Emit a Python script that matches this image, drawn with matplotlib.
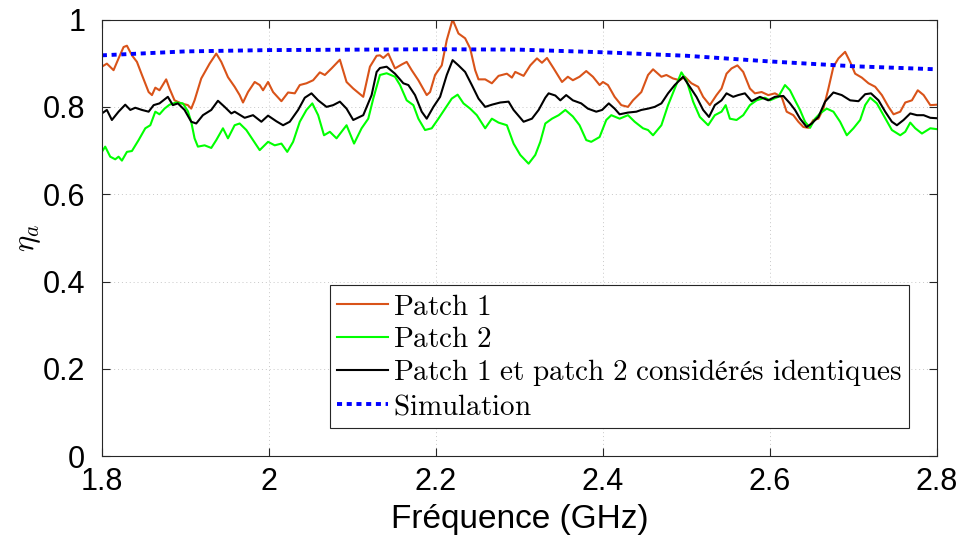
import matplotlib
matplotlib.use('Agg')
import matplotlib.pyplot as plt
from matplotlib.ticker import FormatStrFormatter

plt.rcParams['mathtext.fontset'] = 'cm'
plt.rcParams['font.family'] = ['Liberation Sans', 'DejaVu Sans']

# Patch 1 (orange)
freq_p1 = [1.800, 1.806, 1.814, 1.820, 1.826, 1.830, 1.836, 1.842, 1.848, 1.856,
           1.860, 1.864, 1.869, 1.877, 1.881, 1.887, 1.895, 1.903, 1.907, 1.911,
           1.919, 1.929, 1.937, 1.943, 1.951, 1.959, 1.965, 1.969, 1.975, 1.983,
           1.989, 1.993, 1.999, 2.005, 2.015, 2.023, 2.031, 2.037, 2.045, 2.053,
           2.061, 2.067, 2.075, 2.085, 2.093, 2.101, 2.113, 2.121, 2.129, 2.133,
           2.137, 2.143, 2.151, 2.159, 2.165, 2.171, 2.179, 2.189, 2.193, 2.199,
           2.207, 2.213, 2.220, 2.227, 2.235, 2.241, 2.247, 2.251, 2.259, 2.267,
           2.275, 2.285, 2.291, 2.295, 2.305, 2.313, 2.321, 2.327, 2.333, 2.341,
           2.351, 2.358, 2.364, 2.372, 2.380, 2.388, 2.396, 2.400, 2.406, 2.414,
           2.422, 2.430, 2.436, 2.446, 2.454, 2.460, 2.470, 2.476, 2.484, 2.492,
           2.498, 2.506, 2.514, 2.520, 2.528, 2.536, 2.542, 2.548, 2.554, 2.561,
           2.568, 2.576, 2.582, 2.590, 2.598, 2.606, 2.614, 2.620, 2.628, 2.634,
           2.640, 2.646, 2.652, 2.658, 2.664, 2.670, 2.676, 2.682, 2.690, 2.696,
           2.702, 2.710, 2.718, 2.726, 2.734, 2.742, 2.748, 2.756, 2.762, 2.770,
           2.777, 2.784, 2.792, 2.800]
eta_p1 = [0.892, 0.899, 0.884, 0.911, 0.937, 0.940, 0.918, 0.903, 0.873, 0.834,
          0.827, 0.844, 0.838, 0.863, 0.842, 0.815, 0.808, 0.804, 0.796, 0.815,
          0.865, 0.899, 0.922, 0.903, 0.868, 0.846, 0.827, 0.810, 0.834, 0.857,
          0.850, 0.838, 0.857, 0.834, 0.813, 0.833, 0.831, 0.850, 0.854, 0.861,
          0.879, 0.873, 0.888, 0.908, 0.857, 0.842, 0.823, 0.892, 0.917, 0.918,
          0.912, 0.922, 0.888, 0.897, 0.903, 0.884, 0.861, 0.827, 0.834, 0.873,
          0.895, 0.953, 1.000, 0.968, 0.957, 0.934, 0.884, 0.863, 0.863, 0.854,
          0.871, 0.876, 0.867, 0.880, 0.871, 0.895, 0.911, 0.901, 0.912, 0.888,
          0.857, 0.869, 0.861, 0.869, 0.882, 0.869, 0.850, 0.857, 0.850, 0.823,
          0.804, 0.800, 0.815, 0.834, 0.873, 0.886, 0.869, 0.873, 0.865, 0.861,
          0.869, 0.854, 0.846, 0.823, 0.804, 0.827, 0.842, 0.876, 0.888, 0.895,
          0.880, 0.842, 0.831, 0.834, 0.827, 0.831, 0.823, 0.789, 0.781, 0.766,
          0.754, 0.752, 0.770, 0.773, 0.796, 0.842, 0.892, 0.911, 0.926, 0.903,
          0.876, 0.867, 0.854, 0.846, 0.827, 0.800, 0.783, 0.789, 0.810, 0.815,
          0.838, 0.827, 0.804, 0.805]

# Patch 2 (green)
freq_p2 = [1.800, 1.804, 1.810, 1.816, 1.820, 1.824, 1.830, 1.836, 1.844, 1.852,
           1.858, 1.864, 1.869, 1.875, 1.881, 1.889, 1.897, 1.903, 1.907, 1.911,
           1.915, 1.923, 1.931, 1.937, 1.945, 1.951, 1.959, 1.965, 1.973, 1.981,
           1.989, 1.999, 2.007, 2.015, 2.022, 2.029, 2.037, 2.045, 2.052, 2.059,
           2.066, 2.073, 2.081, 2.093, 2.102, 2.111, 2.119, 2.125, 2.133, 2.141,
           2.151, 2.157, 2.165, 2.173, 2.179, 2.187, 2.195, 2.203, 2.211, 2.219,
           2.226, 2.233, 2.241, 2.249, 2.259, 2.267, 2.275, 2.285, 2.293, 2.301,
           2.311, 2.319, 2.325, 2.331, 2.339, 2.347, 2.355, 2.364, 2.372, 2.380,
           2.386, 2.396, 2.404, 2.410, 2.420, 2.430, 2.438, 2.448, 2.454, 2.460,
           2.470, 2.478, 2.486, 2.494, 2.500, 2.508, 2.516, 2.526, 2.534, 2.542,
           2.547, 2.552, 2.560, 2.568, 2.576, 2.584, 2.594, 2.600, 2.610, 2.618,
           2.624, 2.630, 2.636, 2.642, 2.648, 2.654, 2.660, 2.668, 2.676, 2.684,
           2.692, 2.700, 2.708, 2.714, 2.720, 2.728, 2.736, 2.746, 2.756, 2.762,
           2.768, 2.774, 2.782, 2.792, 2.800]
eta_p2 = [0.697, 0.709, 0.686, 0.680, 0.686, 0.677, 0.697, 0.699, 0.724, 0.751,
          0.758, 0.789, 0.783, 0.796, 0.805, 0.810, 0.808, 0.790, 0.766, 0.728,
          0.709, 0.712, 0.706, 0.724, 0.751, 0.728, 0.758, 0.762, 0.747, 0.724,
          0.701, 0.720, 0.712, 0.716, 0.697, 0.720, 0.766, 0.793, 0.808, 0.781,
          0.735, 0.743, 0.728, 0.758, 0.716, 0.751, 0.773, 0.819, 0.873, 0.877,
          0.869, 0.850, 0.815, 0.804, 0.773, 0.747, 0.751, 0.773, 0.796, 0.819,
          0.828, 0.808, 0.796, 0.781, 0.751, 0.773, 0.764, 0.758, 0.716, 0.690,
          0.670, 0.690, 0.720, 0.762, 0.773, 0.781, 0.793, 0.778, 0.758, 0.724,
          0.720, 0.731, 0.770, 0.781, 0.773, 0.781, 0.766, 0.751, 0.747, 0.735,
          0.758, 0.804, 0.842, 0.879, 0.861, 0.812, 0.777, 0.758, 0.781, 0.789,
          0.804, 0.773, 0.770, 0.781, 0.804, 0.815, 0.821, 0.815, 0.823, 0.850,
          0.838, 0.815, 0.793, 0.766, 0.752, 0.773, 0.785, 0.796, 0.789, 0.766,
          0.735, 0.751, 0.770, 0.804, 0.821, 0.808, 0.781, 0.747, 0.735, 0.743,
          0.764, 0.751, 0.739, 0.751, 0.749]

# Patch 1 et patch 2 consideres identiques (black)
freq_both = [1.800, 1.806, 1.812, 1.820, 1.828, 1.834, 1.840, 1.848, 1.856, 1.862,
             1.869, 1.879, 1.885, 1.891, 1.899, 1.907, 1.913, 1.921, 1.931, 1.939,
             1.947, 1.955, 1.959, 1.971, 1.981, 1.991, 1.999, 2.009, 2.017, 2.025,
             2.035, 2.043, 2.051, 2.059, 2.069, 2.077, 2.085, 2.093, 2.101, 2.113,
             2.123, 2.129, 2.133, 2.141, 2.151, 2.161, 2.167, 2.175, 2.183, 2.189,
             2.197, 2.205, 2.213, 2.220, 2.227, 2.235, 2.243, 2.251, 2.259, 2.267,
             2.277, 2.287, 2.293, 2.305, 2.315, 2.323, 2.331, 2.335, 2.343, 2.349,
             2.356, 2.364, 2.374, 2.382, 2.392, 2.399, 2.407, 2.414, 2.420, 2.430,
             2.440, 2.446, 2.454, 2.462, 2.470, 2.478, 2.486, 2.496, 2.504, 2.512,
             2.520, 2.527, 2.534, 2.542, 2.548, 2.556, 2.562, 2.570, 2.578, 2.588,
             2.598, 2.606, 2.616, 2.624, 2.630, 2.636, 2.644, 2.650, 2.658, 2.666,
             2.676, 2.686, 2.696, 2.706, 2.714, 2.721, 2.730, 2.738, 2.746, 2.752,
             2.760, 2.768, 2.776, 2.784, 2.792, 2.800]
eta_both = [0.785, 0.793, 0.770, 0.789, 0.805, 0.793, 0.798, 0.793, 0.789, 0.804,
            0.808, 0.823, 0.804, 0.808, 0.793, 0.766, 0.762, 0.781, 0.793, 0.814,
            0.800, 0.785, 0.789, 0.775, 0.781, 0.766, 0.780, 0.767, 0.758, 0.766,
            0.793, 0.821, 0.831, 0.815, 0.800, 0.804, 0.812, 0.796, 0.770, 0.781,
            0.827, 0.880, 0.889, 0.892, 0.876, 0.854, 0.850, 0.827, 0.789, 0.773,
            0.800, 0.823, 0.873, 0.907, 0.895, 0.880, 0.850, 0.819, 0.800, 0.805,
            0.810, 0.812, 0.793, 0.766, 0.773, 0.793, 0.821, 0.831, 0.826, 0.815,
            0.827, 0.815, 0.808, 0.796, 0.789, 0.793, 0.808, 0.796, 0.783, 0.787,
            0.789, 0.793, 0.796, 0.800, 0.808, 0.831, 0.850, 0.869, 0.846, 0.823,
            0.793, 0.777, 0.804, 0.815, 0.831, 0.823, 0.827, 0.831, 0.813, 0.823,
            0.815, 0.823, 0.825, 0.808, 0.793, 0.773, 0.754, 0.762, 0.777, 0.812,
            0.833, 0.827, 0.815, 0.813, 0.829, 0.831, 0.815, 0.789, 0.766, 0.758,
            0.770, 0.785, 0.781, 0.781, 0.775, 0.774]

# Simulation (blue dotted)
freq_sim = [1.8, 1.9, 2.0, 2.1, 2.2, 2.3, 2.4, 2.5, 2.6, 2.7, 2.8]
eta_sim = [0.918, 0.927, 0.930, 0.931, 0.932, 0.931, 0.925, 0.917, 0.904, 0.893, 0.886]

labels = [r'$\mathrm{Patch\ 1}$',
          r'$\mathrm{Patch\ 2}$',
          r'$\mathrm{Patch\ 1\ et\ patch\ 2\ considérés\ identiques}$',
          r'$\mathrm{Simulation}$']

fig = plt.figure(figsize=(9.61, 5.42), dpi=100)
ax = fig.add_axes([0.106, 0.158, 0.869, 0.806])

ax.plot(freq_p1, eta_p1, color='#D95319', lw=1.5, label=labels[0])
ax.plot(freq_p2, eta_p2, color='#00FF00', lw=1.5, label=labels[1])
ax.plot(freq_both, eta_both, color='black', lw=1.5, label=labels[2])
ax.plot(freq_sim, eta_sim, color='#0000FF', lw=2.8, dashes=(1.3, 1.2), label=labels[3])

ax.set_xlim(1.8, 2.8)
ax.set_ylim(0, 1)
ax.set_xticks([1.8, 2.0, 2.2, 2.4, 2.6, 2.8])
ax.set_yticks([0, 0.2, 0.4, 0.6, 0.8, 1.0])
ax.xaxis.set_major_formatter(FormatStrFormatter('%g'))
ax.yaxis.set_major_formatter(FormatStrFormatter('%g'))
ax.grid(True, linestyle=(0, (1, 3)), color='#c8c8c8', lw=0.7)
ax.tick_params(direction='in', top=True, right=True, labelsize=22, length=6,
               color='#262626', width=0.8)
ax.tick_params(axis='x', pad=8)
ax.tick_params(axis='y', pad=12)
for s in ax.spines.values():
    s.set_color('#262626')
    s.set_linewidth(0.8)

ax.set_xlabel('Fréquence (GHz)', fontsize=24, labelpad=5)
ax.set_ylabel(r'$\eta_a$', fontsize=22, labelpad=0)

leg = ax.legend(loc='lower left', bbox_to_anchor=(0.273, 0.065), borderaxespad=0,
                fontsize=21, fancybox=False, edgecolor='#262626', framealpha=1,
                handlelength=1.75, handletextpad=0.15, labelspacing=0.15,
                borderpad=0.25)
leg.get_frame().set_linewidth(0.8)

fig.savefig('out.png', dpi=100)
